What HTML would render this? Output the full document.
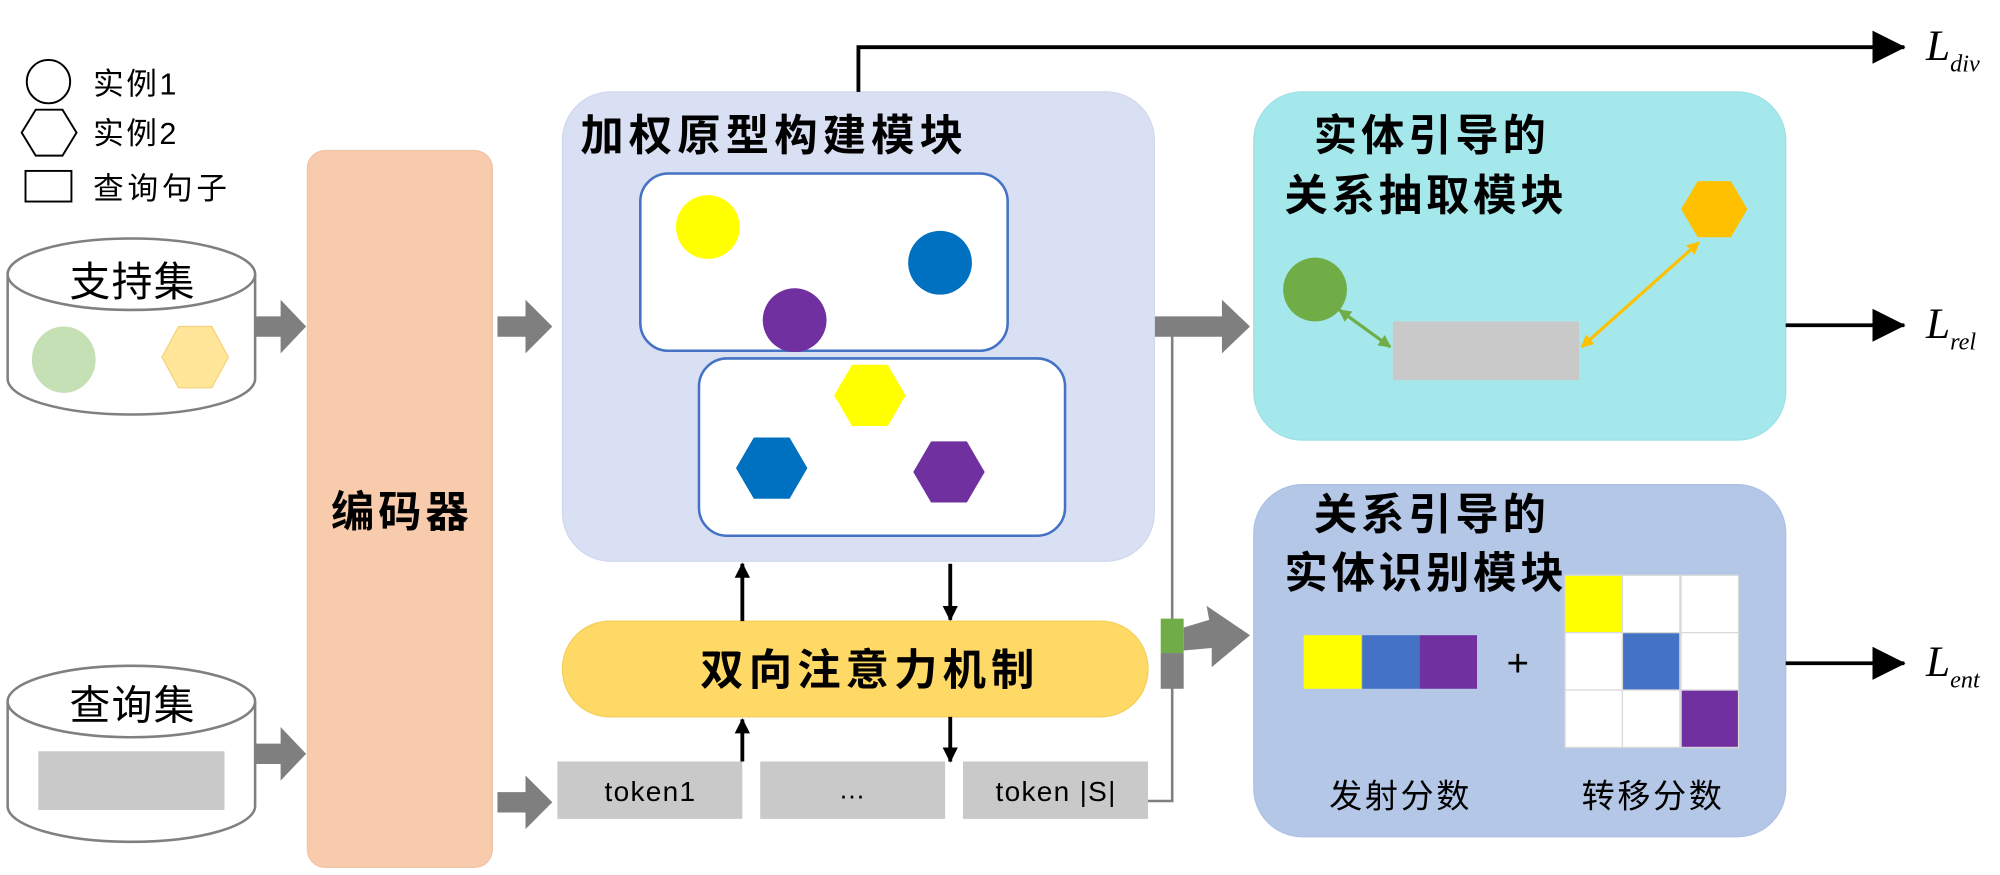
<!DOCTYPE html>
<html><head><meta charset="utf-8"><style>
html,body{margin:0;padding:0;background:#fff;}
svg{display:block;}
text{font-family:"Liberation Sans","Noto Sans CJK SC",sans-serif;}
.b{font-weight:bold;}
.L{font-family:"Liberation Serif",serif;font-style:italic;}
</style></head><body>
<svg width="2000" height="875" viewBox="0 0 1568 686" xmlns="http://www.w3.org/2000/svg">
<defs>
<marker id="ah" markerWidth="12" markerHeight="12" refX="11" refY="6" orient="auto" markerUnits="userSpaceOnUse"><path d="M0,0 L12,6 L0,12 z" fill="#000"/></marker>
<marker id="big" markerWidth="26" markerHeight="26" refX="25" refY="13" orient="auto" markerUnits="userSpaceOnUse"><path d="M0,0 L26,13 L0,26 z" fill="#000"/></marker>
<marker id="ga" markerWidth="10" markerHeight="10" refX="9" refY="5" orient="auto-start-reverse" markerUnits="userSpaceOnUse"><path d="M0,0 L10,5 L0,10 z" fill="#70ad47"/></marker>
<marker id="oa" markerWidth="10" markerHeight="10" refX="9" refY="5" orient="auto-start-reverse" markerUnits="userSpaceOnUse"><path d="M0,0 L10,5 L0,10 z" fill="#ffc000"/></marker>
</defs>

<!-- legend -->
<circle cx="38" cy="64" r="17" fill="none" stroke="#000" stroke-width="1.5"/>
<text x="73" y="74" font-size="24" letter-spacing="2">实例1</text>
<polygon points="17,104 28,86 49,86 60,104 49,122 28,122" fill="none" stroke="#000" stroke-width="1.5"/>
<text x="73" y="113" font-size="24" letter-spacing="2">实例2</text>
<rect x="20" y="134" width="36" height="24" fill="none" stroke="#000" stroke-width="1.5"/>
<text x="73" y="156" font-size="24" letter-spacing="3">查询句子</text>

<!-- support cylinder -->
<path d="M6,215 L6,297 A97,28 0 0 0 200,297 L200,215" fill="#fff" stroke="#808080" stroke-width="2"/>
<ellipse cx="103" cy="215" rx="97" ry="28" fill="#fff" stroke="#808080" stroke-width="2"/>
<text x="104" y="232" font-size="32" text-anchor="middle" letter-spacing="1">支持集</text>
<ellipse cx="50" cy="282" rx="25" ry="26" fill="#c5e0b4"/>
<polygon points="127,280 140,256 166,256 179,280 166,304 140,304" fill="#ffe699" stroke="#f4d37a"/>

<!-- query cylinder -->
<path d="M6,550 L6,632 A97,28 0 0 0 200,632 L200,550" fill="#fff" stroke="#808080" stroke-width="2"/>
<ellipse cx="103" cy="550" rx="97" ry="28" fill="#fff" stroke="#808080" stroke-width="2"/>
<text x="104" y="564" font-size="32" text-anchor="middle" letter-spacing="1">查询集</text>
<rect x="30" y="589" width="146" height="46" fill="#c9c9c9"/>

<!-- encoder -->
<rect x="241" y="118" width="145" height="562" rx="14" fill="#f8cbad" stroke="#f0c4a6"/>
<text x="315" y="413" font-size="34" class="b" text-anchor="middle" letter-spacing="3">编码器</text>

<!-- gray block arrows -->
<g fill="#7f7f7f">
<polygon points="200,248 220,248 220,235 240,256 220,277 220,264 200,264"/>
<polygon points="200,583 220,583 220,570 240,591 220,612 220,599 200,599"/>
<polygon points="390,248 412,248 412,235 433,256 412,277 412,264 390,264"/>
<polygon points="390,621 412,621 412,608 433,629 412,650 412,637 390,637"/>
<polygon points="905,248 958,248 958,235 980,256 958,277 958,264 905,264"/>
<polygon points="928,492 948,486 946,475 980,498 950,523 950,508 928,510"/>
</g>

<!-- prototype module -->
<rect x="441" y="72" width="464" height="368" rx="38" fill="#dae0f3" stroke="#d0d8ee"/>
<text x="455" y="118" font-size="34" class="b" letter-spacing="4">加权原型构建模块</text>
<rect x="502" y="136" width="288" height="139" rx="22" fill="#fff" stroke="#4472c4" stroke-width="2"/>
<circle cx="555" cy="178" r="25" fill="#ffff00"/>
<circle cx="737" cy="206" r="25" fill="#0070c0"/>
<circle cx="623" cy="251" r="25" fill="#7030a0"/>
<rect x="548" y="281" width="287" height="139" rx="22" fill="#fff" stroke="#4472c4" stroke-width="2"/>
<polygon points="654,310 668,286 696,286 710,310 696,334 668,334" fill="#ffff00"/>
<polygon points="577,367 591,343 619,343 633,367 619,391 591,391" fill="#0070c0"/>
<polygon points="716,370 730,346 758,346 772,370 758,394 730,394" fill="#7030a0"/>

<!-- L_div -->
<polyline points="673,72 673,37 1493,37" fill="none" stroke="#000" stroke-width="3" marker-end="url(#big)"/>
<text x="1510" y="47" font-size="34" class="L">L<tspan font-size="19" dy="9">div</tspan></text>

<!-- attention -->
<rect x="441" y="487" width="459" height="75" rx="37" fill="#ffd966" stroke="#f5cf5a"/>
<text x="682" y="537" font-size="34" class="b" text-anchor="middle" letter-spacing="4">双向注意力机制</text>
<g stroke="#000" stroke-width="3">
<line x1="582" y1="487" x2="582" y2="442" marker-end="url(#ah)"/>
<line x1="745" y1="442" x2="745" y2="486" marker-end="url(#ah)"/>
<line x1="582" y1="597" x2="582" y2="564" marker-end="url(#ah)"/>
<line x1="745" y1="562" x2="745" y2="597" marker-end="url(#ah)"/>
</g>

<!-- tokens -->
<rect x="437" y="597" width="145" height="45" fill="#c9c9c9"/>
<rect x="596" y="597" width="145" height="45" fill="#c9c9c9"/>
<rect x="755" y="597" width="145" height="45" fill="#c9c9c9"/>
<text x="510" y="628" font-size="22" text-anchor="middle" letter-spacing="1">token1</text>
<text x="668" y="626" font-size="21" text-anchor="middle">…</text>
<text x="828" y="628" font-size="22" text-anchor="middle" letter-spacing="1">token |S|</text>

<!-- gray connector -->
<polyline points="900,628 919,628 919,256" fill="none" stroke="#7f7f7f" stroke-width="2"/>
<rect x="910" y="485" width="18" height="27" fill="#70ad47"/>
<rect x="910" y="512" width="18" height="28" fill="#7f7f7f"/>

<!-- relation module -->
<rect x="983" y="72" width="417" height="273" rx="38" fill="#a5e8ec" stroke="#9fe0e4"/>
<text x="1030" y="118" font-size="34" class="b" letter-spacing="3">实体引导的</text>
<text x="1007" y="165" font-size="34" class="b" letter-spacing="3">关系抽取模块</text>
<ellipse cx="1031" cy="227" rx="25" ry="25" fill="#70ad47"/>
<polygon points="1318,164 1331,142 1357,142 1370,164 1357,186 1331,186" fill="#ffc000"/>
<rect x="1092" y="252" width="146" height="46" fill="#c9c9c9"/>
<line x1="1050" y1="243" x2="1090" y2="272" stroke="#70ad47" stroke-width="2.5" marker-start="url(#ga)" marker-end="url(#ga)"/>
<line x1="1240" y1="272" x2="1332" y2="190" stroke="#ffc000" stroke-width="2.5" marker-start="url(#oa)" marker-end="url(#oa)"/>
<line x1="1400" y1="255" x2="1493" y2="255" stroke="#000" stroke-width="3" marker-end="url(#big)"/>
<text x="1510" y="265" font-size="34" class="L">L<tspan font-size="19" dy="9">rel</tspan></text>

<!-- entity module -->
<rect x="983" y="380" width="417" height="276" rx="38" fill="#b4c7e7" stroke="#adc0e2"/>
<text x="1030" y="415" font-size="34" class="b" letter-spacing="3">关系引导的</text>
<text x="1007" y="461" font-size="34" class="b" letter-spacing="3">实体识别模块</text>
<rect x="1022" y="498" width="45" height="42" fill="#ffff00"/>
<rect x="1068" y="498" width="45" height="42" fill="#4472c4"/>
<rect x="1113" y="498" width="45" height="42" fill="#7030a0"/>
<text x="1190" y="530" font-size="30" text-anchor="middle" font-family="Liberation Serif,serif">+</text>
<g stroke="#d9d9d9" stroke-width="1">
<rect x="1227" y="451" width="45" height="45" fill="#ffff00"/>
<rect x="1272" y="451" width="45" height="45" fill="#fff"/>
<rect x="1318" y="451" width="45" height="45" fill="#fff"/>
<rect x="1227" y="496" width="45" height="45" fill="#fff"/>
<rect x="1272" y="496" width="45" height="45" fill="#4472c4"/>
<rect x="1318" y="496" width="45" height="45" fill="#fff"/>
<rect x="1227" y="541" width="45" height="45" fill="#fff"/>
<rect x="1272" y="541" width="45" height="45" fill="#fff"/>
<rect x="1318" y="541" width="45" height="45" fill="#7030a0"/>
</g>
<text x="1098" y="633" font-size="26" text-anchor="middle" letter-spacing="2">发射分数</text>
<text x="1296" y="633" font-size="26" text-anchor="middle" letter-spacing="2">转移分数</text>
<line x1="1400" y1="520" x2="1493" y2="520" stroke="#000" stroke-width="3" marker-end="url(#big)"/>
<text x="1510" y="530" font-size="34" class="L">L<tspan font-size="19" dy="9">ent</tspan></text>
</svg>
</body></html>
